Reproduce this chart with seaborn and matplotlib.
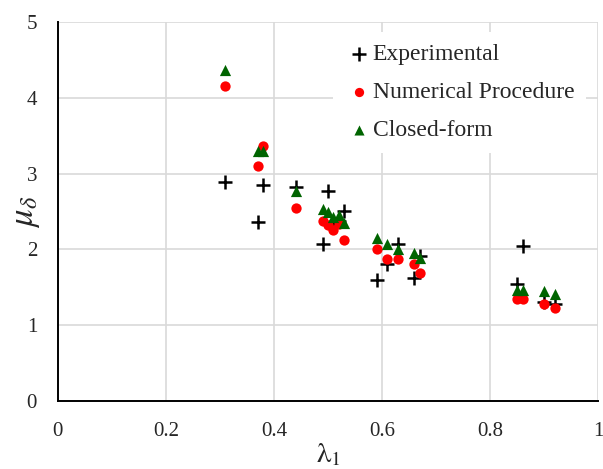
import pandas as pd
import matplotlib
matplotlib.use("Agg")
import matplotlib.pyplot as plt
import seaborn as sns

# lambda_1 values shared by all three series
lam = [0.31, 0.37, 0.38, 0.44, 0.49, 0.50, 0.51, 0.52, 0.53,
       0.59, 0.61, 0.63, 0.66, 0.67, 0.85, 0.86, 0.90, 0.92]

mu_exp = [2.89, 2.36, 2.85, 2.83, 2.07, 2.77, 2.35, 2.38, 2.51,
          1.59, 1.81, 2.07, 1.62, 1.91, 1.54, 2.05, 1.30, 1.28]
mu_num = [4.15, 3.10, 3.36, 2.54, 2.37, 2.32, 2.26, 2.34, 2.13,
          2.00, 1.87, 1.88, 1.81, 1.69, 1.34, 1.34, 1.28, 1.23]
mu_closed = [4.37, 3.30, 3.30, 2.77, 2.53, 2.49, 2.43, 2.46, 2.35,
             2.15, 2.07, 2.01, 1.95, 1.89, 1.46, 1.46, 1.45, 1.41]

x_ticks = [0, 0.2, 0.4, 0.6, 0.8, 1]
x_tick_labels = ["0", "0.2", "0.4", "0.6", "0.8", "1"]
y_ticks = [0, 1, 2, 3, 4, 5]


def make_frame():
    df = pd.DataFrame({'lam': lam * 3,
                       'mu': mu_exp + mu_num + mu_closed,
                       'series': ['Experimental'] * len(lam)
                                 + ['Numerical Procedure'] * len(lam)
                                 + ['Closed-form'] * len(lam)})
    return df


def draw(df):
    sns.set_style("white")
    plt.rcParams['font.family'] = ['Liberation Serif', 'DejaVu Serif']
    plt.rcParams['mathtext.fontset'] = 'stix'

    fig = plt.figure(figsize=(6.03, 4.69), dpi=100)
    ax = fig.add_axes([0.096, 0.145, 0.896, 0.808])

    # plus markers are line art, so each series gets its own call
    sns.scatterplot(data=df[df['series'] == 'Experimental'], x='lam', y='mu',
                    marker='+', color='black', s=110, linewidth=1.8,
                    label='Experimental', ax=ax, zorder=3)
    sns.scatterplot(data=df[df['series'] == 'Numerical Procedure'], x='lam', y='mu',
                    marker='o', color='#ff0000', s=55, linewidth=0,
                    label='Numerical Procedure', ax=ax, zorder=3)
    sns.scatterplot(data=df[df['series'] == 'Closed-form'], x='lam', y='mu',
                    marker='^', color='#006400', s=65, linewidth=0,
                    label='Closed-form', ax=ax, zorder=3)

    ax.set_xlim(0, 1)
    ax.set_ylim(0, 5)
    ax.set_xticks(x_ticks)
    ax.set_xticklabels(x_tick_labels)
    ax.set_yticks(y_ticks)
    ax.tick_params(axis='x', labelsize=15, length=0, pad=15)
    ax.tick_params(axis='y', labelsize=15, length=0, pad=15)
    ax.grid(True, color='#d9d9d9', linewidth=1.2)
    ax.set_axisbelow(True)

    for side in ['top', 'right']:
        ax.spines[side].set_visible(False)
    for side in ['left', 'bottom']:
        ax.spines[side].set_color('black')
        ax.spines[side].set_linewidth(1.4)

    ax.set_xlabel(r'$\mathrm{\lambda}_{\mathit{1}}$', fontsize=21, labelpad=0)
    ax.set_ylabel(r'$\mu_{\delta}$', fontsize=25)
    ax.yaxis.set_label_coords(-0.03, 0.5)

    leg = ax.legend(loc='upper right', bbox_to_anchor=(0.978, 0.975), fontsize=17,
                    frameon=True, facecolor='white', edgecolor='none', framealpha=1,
                    handletextpad=0.0, borderpad=0.3, labelspacing=0.7,
                    handlelength=1.2, markerscale=0.9, borderaxespad=0.2)
    leg.get_frame().set_boxstyle('square', pad=0.2)

    fig.savefig('out.png', dpi=100)
    plt.close()


if __name__ == '__main__':
    data = make_frame()
    draw(data)
